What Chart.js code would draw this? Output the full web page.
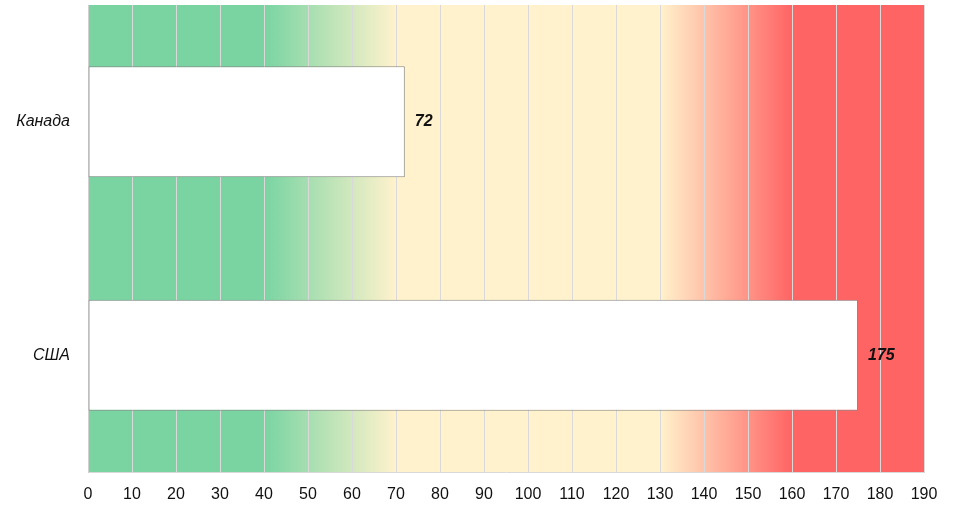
<!DOCTYPE html>
<html>
<head>
<meta charset="utf-8">
<script src="https://cdn.jsdelivr.net/npm/chart.js@4"></script>
<style>
  html, body { margin: 0; padding: 0; background: #fff; }
  #wrap { width: 961px; height: 509px; }
</style>
</head>
<body>
<div id="wrap"><canvas id="chart-area" width="961" height="509"></canvas></div>
<script>
var countries = ["Канада", "США"];
var values    = [72, 175];
var xMax      = 190;
var xStep     = 10;

// background zones along the x axis
var zoneGreen = "#79d4a2";
var zoneCream = "#fff2cc";
var zoneRed   = "#ff6464";

var labelFont = "'Liberation Sans Narrow', 'Liberation Sans', Arial, sans-serif";

var zonesBg = {
    id: 'zonesBg',
    beforeDraw: function (chart) {
        var ca = chart.chartArea;
        var ctx = chart.ctx;
        var xs = chart.scales.x;
        var w = ca.right - ca.left;
        var pos = function (v) { return (xs.getPixelForValue(v) - ca.left) / w; };
        var g = ctx.createLinearGradient(ca.left, 0, ca.right, 0);
        g.addColorStop(0, zoneGreen);
        g.addColorStop(pos(40), zoneGreen);
        g.addColorStop(pos(70), zoneCream);
        g.addColorStop(pos(130), zoneCream);
        g.addColorStop(pos(160), zoneRed);
        g.addColorStop(1, zoneRed);
        ctx.save();
        ctx.fillStyle = g;
        ctx.fillRect(ca.left, ca.top, w, ca.bottom - ca.top);
        ctx.restore();
    }
};

var valueLabels = {
    id: 'valueLabels',
    afterDatasetsDraw: function (chart) {
        var ctx = chart.ctx;
        var meta = chart.getDatasetMeta(0);
        ctx.save();
        ctx.font = "italic bold 16px " + labelFont;
        ctx.fillStyle = "#111";
        ctx.textAlign = "left";
        ctx.textBaseline = "middle";
        meta.data.forEach(function (bar, i) {
            ctx.fillText(values[i], bar.x + 10, bar.y);
        });
        ctx.restore();
    }
};

var config = {
    type: 'bar',
    data: {
        labels: countries,
        datasets: [{
            data: values,
            backgroundColor: "#ffffff",
            borderColor: "#8a8a8a",
            borderWidth: 1,
            borderSkipped: false,
            barPercentage: 0.95,
            categoryPercentage: 0.5
        }]
    },
    options: {
        indexAxis: 'y',
        responsive: false,
        animation: false,
        layout: { padding: { top: 5, right: 37, left: 0, bottom: 0 } },
        plugins: {
            legend: { display: false },
            tooltip: { enabled: false }
        },
        scales: {
            x: {
                min: 0,
                max: xMax,
                ticks: {
                    stepSize: xStep,
                    color: "#111",
                    padding: 13,
                    maxRotation: 0,
                    minRotation: 0,
                    font: { family: labelFont, size: 16 }
                },
                grid: {
                    color: "#d9d9d9",
                    lineWidth: 1,
                    drawTicks: false
                },
                border: { display: true, color: "#d9d9d9" },
                afterFit: function (scale) { scale.height = 37; }
            },
            y: {
                ticks: {
                    color: "#111",
                    padding: 18,
                    font: { family: labelFont, size: 16, style: 'italic' }
                },
                grid: { display: false, drawTicks: false },
                border: { display: true, color: "#d0d0d0" },
                afterFit: function (scale) {
                    scale.width = 88;
                    scale.paddingTop = 0;
                    scale.paddingBottom = 0;
                }
            }
        }
    },
    plugins: [zonesBg, valueLabels]
};

var ctx = document.getElementById('chart-area').getContext('2d');
window.myBar = new Chart(ctx, config);
</script>
</body>
</html>
